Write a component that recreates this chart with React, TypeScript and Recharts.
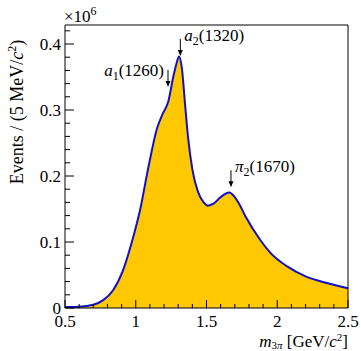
// App.tsx
import React from "react";
import {
  AreaChart,
  Area,
  XAxis,
  YAxis,
  ReferenceDot,
} from "recharts";

// m(3pi) in GeV/c^2 and events (x 10^6) per 5 MeV/c^2 bin
const massGeV = [
  0.5, 0.6, 0.7, 0.77, 0.84, 0.91, 0.97, 1.03, 1.09, 1.15, 1.19, 1.23, 1.265,
  1.29, 1.305, 1.325, 1.35, 1.37, 1.4, 1.44, 1.48, 1.51, 1.55, 1.6, 1.66, 1.7,
  1.73, 1.78, 1.88, 1.95, 2.07, 2.2, 2.35, 2.5,
];
const events = [
  0.0015, 0.002, 0.005, 0.012, 0.027, 0.057, 0.098, 0.148, 0.214, 0.272, 0.294,
  0.313, 0.35, 0.372, 0.381, 0.365, 0.305, 0.258, 0.21, 0.176, 0.16, 0.155,
  0.158, 0.168, 0.175, 0.168, 0.158, 0.137, 0.103, 0.084, 0.063, 0.048, 0.038,
  0.03,
];

const xTicks = [
  0.5, 0.6, 0.7, 0.8, 0.9, 1, 1.1, 1.2, 1.3, 1.4, 1.5, 1.6, 1.7, 1.8, 1.9, 2,
  2.1, 2.2, 2.3, 2.4, 2.5,
];
const yTicks = [
  0, 0.02, 0.04, 0.06, 0.08, 0.1, 0.12, 0.14, 0.16, 0.18, 0.2, 0.22, 0.24, 0.26,
  0.28, 0.3, 0.32, 0.34, 0.36, 0.38, 0.4, 0.42,
];

// resonance markers: arrow x position and arrow tip height
const resonances = [
  { sym: "a", sub: "1", mass: "1260", x: 1.228, y: 0.335, side: "left" },
  { sym: "a", sub: "2", mass: "1320", x: 1.315, y: 0.382, side: "right" },
  { sym: "\u03c0", sub: "2", mass: "1670", x: 1.673, y: 0.183, side: "right" },
];

const data = massGeV.map((m, i) => ({ m, n: events[i] }));

const FONT = "Liberation Serif, Times New Roman, serif";
const isMajor = (v: number, step: number) =>
  Math.abs(v / step - Math.round(v / step)) < 1e-6;

const fmt = (v: number) => (v === 0 ? "0" : String(v));

const XTick = (props: any) => {
  const { x, y, payload } = props;
  const major = isMajor(payload.value, 0.5);
  return (
    <g>
      <line x1={x} x2={x} y1={y} y2={y - (major ? 8 : 4)} stroke="#000" />
      {major && (
        <text x={x} y={y + 19} textAnchor="middle" fontSize={17} fontFamily={FONT} fill="#000">
          {fmt(payload.value)}
        </text>
      )}
    </g>
  );
};

const YTick = (props: any) => {
  const { x, y, payload } = props;
  const major = isMajor(payload.value, 0.1);
  return (
    <g>
      <line x1={x} x2={x + (major ? 9 : 5)} y1={y} y2={y} stroke="#000" />
      {major && (
        <text x={x - 4} y={y + 6} textAnchor="end" fontSize={17} fontFamily={FONT} fill="#000">
          {fmt(payload.value)}
        </text>
      )}
    </g>
  );
};

const Marker = (res: (typeof resonances)[number]) => (props: any) => {
  const { cx, cy } = props;
  const top = cy - 17;
  const left = res.side === "left";
  return (
    <g>
      <line x1={cx} x2={cx} y1={top} y2={cy - 4} stroke="#000" strokeWidth={1} />
      <polygon points={`${cx - 2.5},${cy - 6} ${cx + 2.5},${cy - 6} ${cx},${cy}`} fill="#000" />
      <text
        x={left ? cx - 4 : cx + 4}
        y={left ? top + 6 : top + 2}
        textAnchor={left ? "end" : "start"}
        fontSize={17}
        fontFamily={FONT}
        fill="#000"
      >
        <tspan fontStyle="italic">{res.sym}</tspan>
        <tspan fontSize={12} dy={4}>{res.sub}</tspan>
        <tspan dy={-4}>({res.mass})</tspan>
      </text>
    </g>
  );
};

export default function App() {
  return (
    <div style={{ position: "absolute", left: 0, top: 0, width: 361, height: 351, background: "#fff", fontFamily: FONT }}>
      <AreaChart
        width={361}
        height={351}
        data={data}
        margin={{ top: 20, right: 8, bottom: 13, left: 5 }}
      >
        <XAxis
          dataKey="m"
          type="number"
          domain={[0.5, 2.5]}
          ticks={xTicks}
          interval={0}
          height={30}
          tickSize={0}
          tickMargin={0}
          tickLine={false}
          tick={<XTick />}
          axisLine={{ stroke: "#000" }}
        />
        <XAxis
          xAxisId="top"
          orientation="top"
          dataKey="m"
          type="number"
          domain={[0.5, 2.5]}
          height={5}
          tick={false}
          tickLine={false}
          axisLine={{ stroke: "#000" }}
        />
        <YAxis
          type="number"
          domain={[0, 0.4288]}
          ticks={yTicks}
          interval={0}
          width={60}
          tickSize={0}
          tickMargin={0}
          tickLine={false}
          tick={<YTick />}
          axisLine={{ stroke: "#000" }}
        />
        <YAxis
          yAxisId="right"
          orientation="right"
          type="number"
          domain={[0, 0.4288]}
          width={5}
          tick={false}
          tickLine={false}
          axisLine={{ stroke: "#000" }}
        />
        <Area
          type="monotone"
          dataKey="n"
          stroke="#1010cc"
          strokeWidth={2}
          fill="#ffc800"
          fillOpacity={1}
          baseValue={0}
          isAnimationActive={false}
          dot={false}
          activeDot={false}
        />
        {resonances.map((r) => (
          <ReferenceDot key={r.mass} x={r.x} y={r.y} r={0} shape={Marker(r)} />
        ))}
      </AreaChart>
      <svg
        width={361}
        height={351}
        style={{ position: "absolute", left: 0, top: 0, pointerEvents: "none" }}
      >
        <text x={64} y={22} fontSize={17} fontFamily={FONT} fill="#000">
          {"\u00d710"}
          <tspan fontSize={12} dy={-7}>6</tspan>
        </text>
        <text
          x={0}
          y={0}
          transform="translate(23,112) rotate(-90)"
          textAnchor="middle"
          fontSize={18}
          fontFamily={FONT}
          fill="#000"
        >
          Events / (5 MeV/<tspan fontStyle="italic">c</tspan>
          <tspan fontSize={12} dy={-7}>2</tspan>
          <tspan dy={7}>)</tspan>
        </text>
        <text x={348} y={347} textAnchor="end" fontSize={17} fontFamily={FONT} fill="#000">
          <tspan fontStyle="italic">m</tspan>
          <tspan fontSize={11} dy={2}>3</tspan>
          <tspan fontSize={11} fontStyle="italic">{"\u03c0"}</tspan>
          <tspan dy={-2}>{"  [GeV/"}</tspan>
          <tspan fontStyle="italic">c</tspan>
          <tspan fontSize={11} dy={-6}>2</tspan>
          <tspan dy={6}>]</tspan>
        </text>
      </svg>
    </div>
  );
}
